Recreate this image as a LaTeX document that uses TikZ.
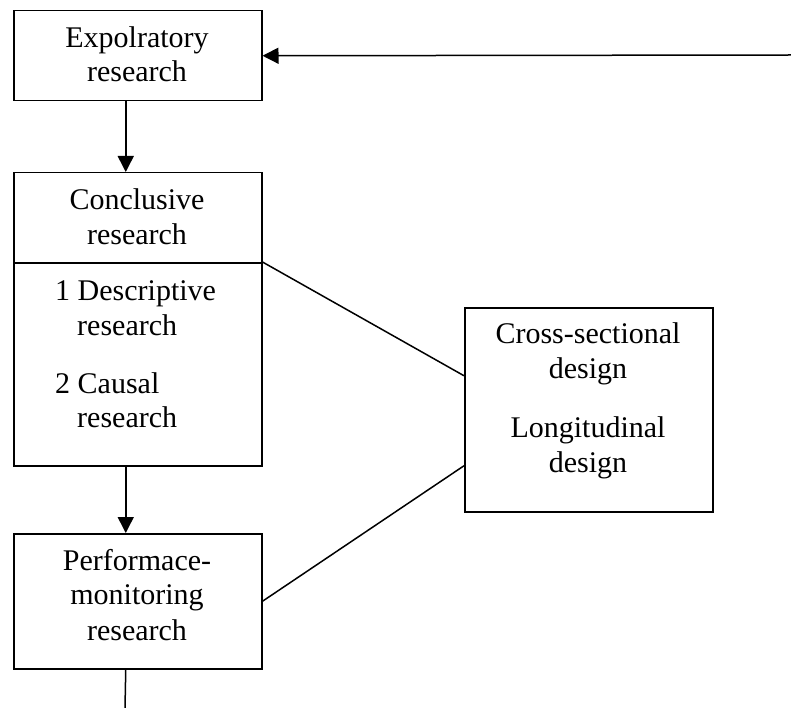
\documentclass[tikz,border=0pt]{standalone}
\usepackage{fontspec}
\setmainfont{Liberation Serif}
\usetikzlibrary{arrows.meta}
\begin{document}
\begin{tikzpicture}[x=1pt,y=-1pt,
  box/.style={draw, line width=1.5pt, rectangle, inner sep=0pt, anchor=north west},
  txt/.style={anchor=base, inner sep=0pt, font=\fontsize{30}{34}\selectfont},
  txtl/.style={txt, anchor=base west},
  link/.style={line width=1.5pt},
  arr/.style={link, -{Triangle[length=16pt,width=16pt]}}]
\useasboundingbox (0,0) rectangle (791,708);

% boxes
\node[box, minimum width=248pt, minimum height=90pt]  (explo)  at (13,10)  {};
\node[box, minimum width=248pt, minimum height=90pt]  (concl)  at (13,172) {};
\node[box, minimum width=248pt, minimum height=203pt] (types)  at (13,262) {};
\node[box, minimum width=248pt, minimum height=135pt] (perf)   at (13,533) {};
\node[box, minimum width=248pt, minimum height=204pt] (design) at (464,307) {};

% box texts
\node[txt]  (t1)  at (137,47.7) {Expolratory};
\node[txt]  (t2)  at (137,81.7) {research};
\node[txt]  (t3)  at (137,210)  {Conclusive};
\node[txt]  (t4)  at (137,245)  {research};
\node[txtl] (t5)  at (55,300)   {1 Descriptive};
\node[txtl] (t6)  at (77,335)   {research};
\node[txtl] (t7)  at (55,393)   {2 Causal};
\node[txtl] (t8)  at (77,427)   {research};
\node[txt]  (t9)  at (137,570)  {Performace-};
\node[txt]  (t10) at (137,604)  {monitoring};
\node[txt]  (t11) at (137,640)  {research};
\node[txt]  (t12) at (588,343)  {Cross-sectional};
\node[txt]  (t13) at (588,378)  {design};
\node[txt]  (t14) at (588,437)  {Longitudinal};
\node[txt]  (t15) at (588,472)  {design};

% connectors
\coordinate (feed) at (791,55);
\coordinate (tail) at (125,708);
\draw[arr] (feed) -- (explo.east);
\draw[arr] ([xshift=-12pt]explo.south) -- ([xshift=-12pt]concl.north);
\draw[arr] ([xshift=-12pt]types.south) -- ([xshift=-12pt]perf.north);
\draw[link] ([xshift=-12pt]perf.south) -- (tail);
\draw[link] (types.north east) -- ([yshift=34pt]design.west);
\draw[link] (perf.east) -- ([yshift=-56pt]design.west);
\end{tikzpicture}
\end{document}
